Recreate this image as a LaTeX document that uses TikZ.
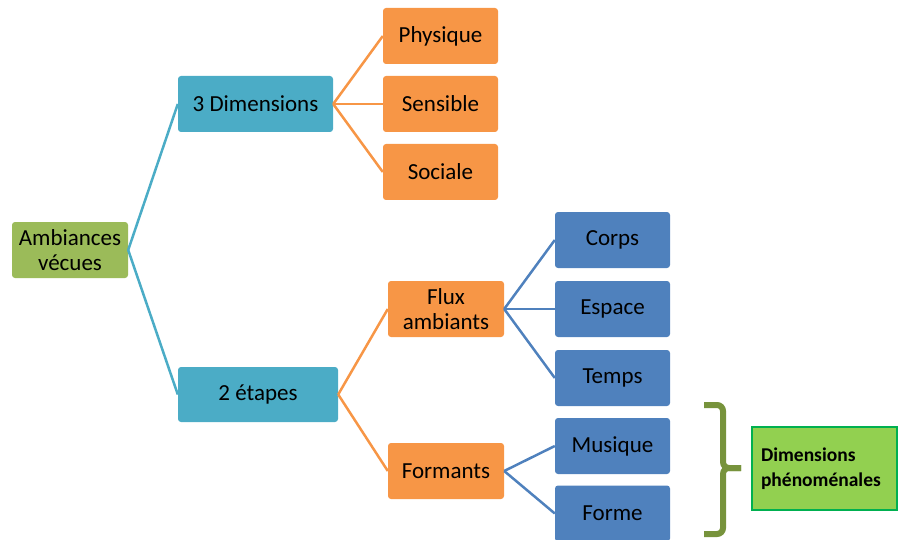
\documentclass[tikz,border=0pt]{standalone}
\usepackage{fontspec}
\setmainfont{Carlito}
\usetikzlibrary{arrows.meta}

\definecolor{olivgruen}{HTML}{9BBB59}
\definecolor{tuerkis}{HTML}{4BACC6}
\definecolor{orange}{HTML}{F79646}
\definecolor{blau}{HTML}{4F81BD}
\definecolor{hellgruen}{HTML}{92D050}
\definecolor{randgruen}{HTML}{00B050}
\definecolor{klammer}{HTML}{77933C}

\begin{document}
\begin{tikzpicture}[
    x=1pt, y=-1pt,
    box/.style={rounded corners=3pt, minimum width=115pt, minimum height=56pt,
                align=center, inner sep=2pt, text=black,
                font=\fontsize{23}{25}\selectfont},
    wurzel/.style={box, fill=olivgruen, minimum width=116pt},
    ebene1/.style={box, fill=tuerkis},
    ebene2/.style={box, fill=orange},
    ebene3/.style={box, fill=blau},
    linie/.style={line width=2.5pt},
    note/.style={draw=randgruen, line width=2pt, fill=hellgruen, align=left,
                 minimum width=145pt, minimum height=83pt, text width=127pt,
                 font=\fontsize{19.5}{25}\selectfont\bfseries} % Kasten rechts
]
\useasboundingbox (0,0) rectangle (899,540);

\node[wurzel] (amb) at (70,250) {Ambiances\\vécues};

\node[ebene1, minimum width=155pt] (dim) at (255.5,104) {3 Dimensions};
\node[ebene1, minimum width=160pt, minimum height=55pt] (eta) at (258,394.5) {2 étapes};

\node[ebene2] (phy) at (440.5,36) {Physique};
\node[ebene2] (sen) at (440.5,104) {Sensible};
\node[ebene2] (soc) at (440.5,172) {Sociale};
\node[ebene2, minimum width=116pt] (flu) at (446,309) {Flux\\ambiants};
\node[ebene2, minimum width=116pt] (frm) at (446,471) {Formants};

\node[ebene3] (cor) at (612.5,240) {Corps};
\node[ebene3] (esp) at (612.5,309) {Espace};
\node[ebene3] (tem) at (612.5,378) {Temps};
\node[ebene3] (mus) at (612.5,446) {Musique};
\node[ebene3] (for) at (612.5,513.5) {Forme};

\node[note] (phe) at (824.5,468.5) {Dimensions\\phénoménales};

% Verbindungen
\foreach \a/\b in {amb/dim, amb/eta}
    \draw[linie, tuerkis] (\a.east) -- (\b.west);
\foreach \a/\b in {dim/phy, dim/sen, dim/soc, eta/flu, eta/frm}
    \draw[linie, orange] (\a.east) -- (\b.west);
\foreach \a/\b in {flu/cor, flu/esp, flu/tem, frm/mus, frm/for}
    \draw[linie, blau] (\a.east) -- (\b.west);

% Klammer
\coordinate (kspitze) at (741,468);
\draw[klammer, line width=6pt, rounded corners=6pt]
    (704,405) -- (723,405) -- (723,468) -- (kspitze);
\draw[klammer, line width=6pt, rounded corners=6pt]
    (704,534) -- (723,534) -- (723,468) -- (kspitze);

\end{tikzpicture}
\end{document}
